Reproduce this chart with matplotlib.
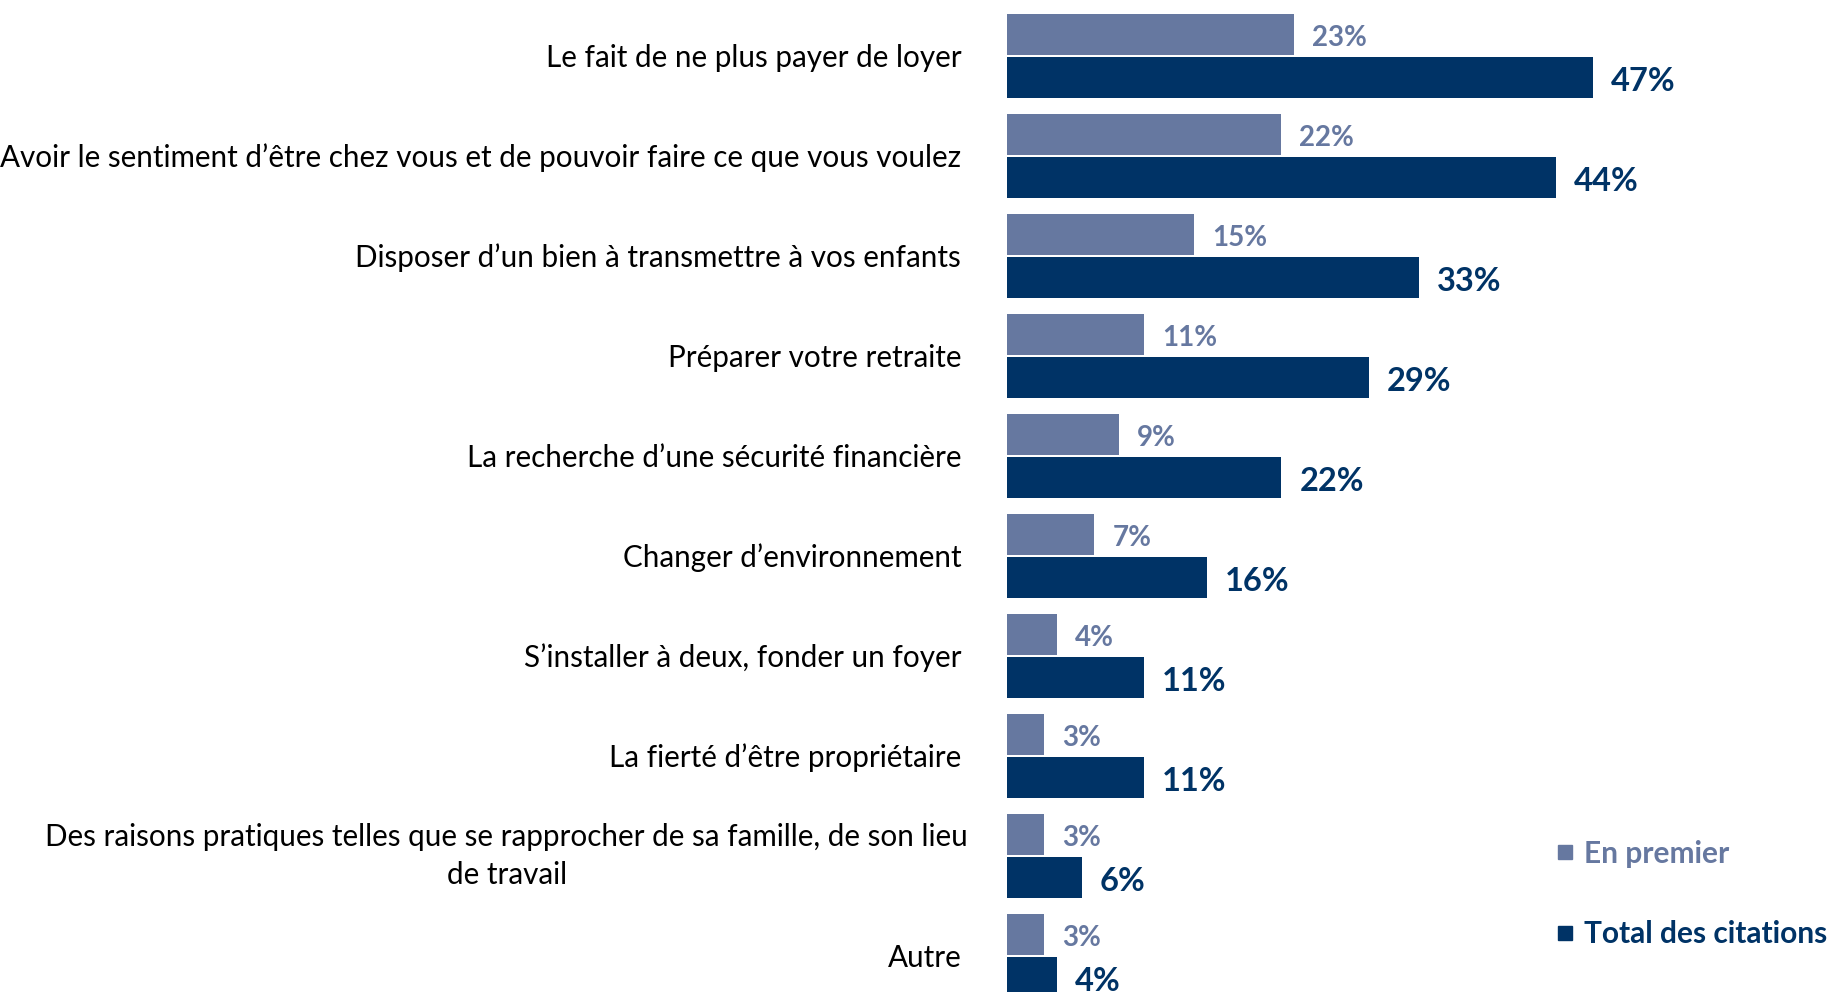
import matplotlib
matplotlib.use("Agg")
import matplotlib.pyplot as plt
import matplotlib.transforms as mtransforms
from matplotlib.lines import Line2D

# data
categories = [
    "Le fait de ne plus payer de loyer",
    "Avoir le sentiment d’être chez vous et de pouvoir faire ce que vous voulez",
    "Disposer d’un bien à transmettre à vos enfants",
    "Préparer votre retraite",
    "La recherche d’une sécurité financière",
    "Changer d’environnement",
    "S’installer à deux, fonder un foyer",
    "La fierté d’être propriétaire",
    "Des raisons pratiques telles que se rapprocher de sa famille, de son lieu\nde travail",
    "Autre",
]
en_premier = [23, 22, 15, 11, 9, 7, 4, 3, 3, 3]
total_citations = [47, 44, 33, 29, 22, 16, 11, 11, 6, 4]
series_names = ["En premier", "Total des citations"]

light = "#6678A0"
dark = "#003366"

plt.rcParams['font.family'] = ['Lato', 'DejaVu Sans']

fig = plt.figure(figsize=(18.3, 9.92), dpi=100)
ax = fig.add_axes([1007 / 1830, 0, 823 / 1830, 1])

y = list(range(len(categories)))
off = 0.215
h = 0.41
ax.barh([v - off for v in y], en_premier, height=h, color=light)
ax.barh([v + off for v in y], total_citations, height=h, color=dark)

# value labels
for i, (a, b) in enumerate(zip(en_premier, total_citations)):
    ax.annotate(f"{a}%", (a, i - off), xytext=(13, -2.5), textcoords="offset points",
                ha="left", va="center", fontsize=20, fontweight="bold", color=light)
    ax.annotate(f"{b}%", (b, i + off), xytext=(13, -3), textcoords="offset points",
                ha="left", va="center", fontsize=23.5, fontweight="bold", color=dark)

ax.set_xlim(0, 66)
ax.set_ylim(9.36, -0.56)

# category labels, right aligned left of the bars
trans = mtransforms.blended_transform_factory(ax.transAxes, ax.transData)
for i, cat in enumerate(categories):
    if "\n" in cat:
        dx, dy = -28, 0
    else:
        dx, dy = -33, -1.5
    ax.annotate(cat, (0, i), xycoords=trans, xytext=(dx, dy), textcoords="offset points",
                ha="right", va="center", multialignment="center", linespacing=1.42,
                fontsize=21.3, color="black", annotation_clip=False)

ax.set_yticks([])
ax.set_xticks([])
for s in ax.spines.values():
    s.set_visible(False)

handles = [Line2D([], [], marker="s", linestyle="none", color=light, markersize=10.5),
           Line2D([], [], marker="s", linestyle="none", color=dark, markersize=10.5)]
leg = fig.legend(handles, series_names, loc="center left", bbox_to_anchor=(1557 / 1830, 1 - 894 / 992),
                 frameon=False, fontsize=21.5, handlelength=0.55, handletextpad=0.35,
                 labelspacing=1.76, borderaxespad=0, borderpad=0)
for t, c in zip(leg.get_texts(), [light, dark]):
    t.set_color(c)
    t.set_fontweight("bold")

fig.savefig("out.png", dpi=100)
